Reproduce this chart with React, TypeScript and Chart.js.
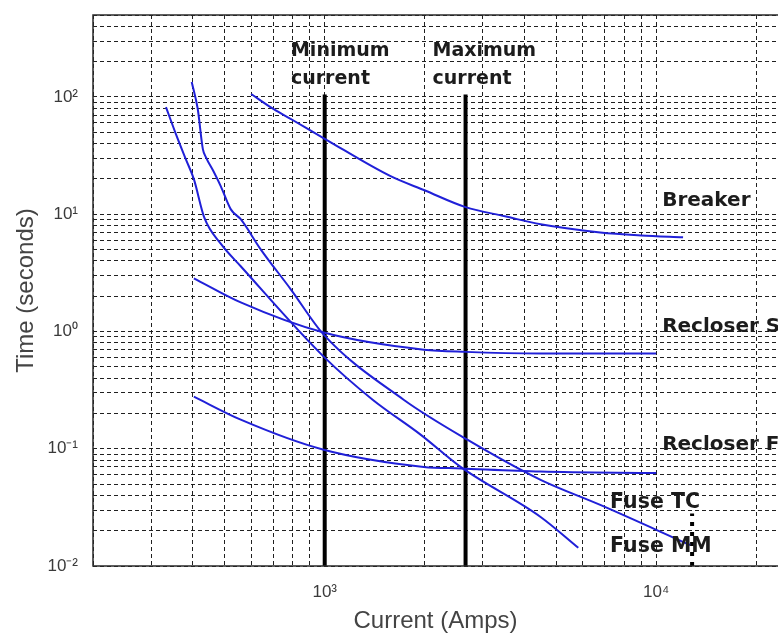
import React, { useEffect, useRef } from 'react';
import { Chart, registerables } from 'chart.js';
Chart.register(...registerables);

// Axis limits
const X_MIN = 200;
const X_MAX = 23300;
const Y_MIN = 0.01;
const Y_MAX = 500;

// Grid (log decades) and labelled ticks
const xGridValues = [200, 300, 400, 500, 600, 700, 800, 900, 1000, 2000, 3000, 4000, 5000, 6000, 7000, 8000, 9000, 10000, 20000];
const yGridValues = [
  0.01, 0.02, 0.03, 0.04, 0.05, 0.06, 0.07, 0.08, 0.09,
  0.1, 0.2, 0.3, 0.4, 0.5, 0.6, 0.7, 0.8, 0.9,
  1, 2, 3, 4, 5, 6, 7, 8, 9,
  10, 20, 30, 40, 50, 60, 70, 80, 90,
  100, 200, 300, 400, 500,
];
const xLabelValues = [1000, 10000];
const xLabelTexts = ['10³', '10⁴'];
const yLabelValues = [0.01, 0.1, 1, 10, 100];
const yLabelTexts = ['10⁻²', '10⁻¹', '10⁰', '10¹', '10²'];

// Curves: current (A) / time (s)
const breakerCurrent = [600, 700, 800, 1000, 1580, 2000, 2660, 3500, 4480, 6780, 9000, 12050];
const breakerTime = [106, 79, 63.6, 44, 21.1, 16, 11.5, 9.6, 8.2, 7.0, 6.6, 6.35];

const recloserSCurrent = [403, 558, 993, 1990, 2660, 4480, 10000];
const recloserSTime = [2.84, 1.77, 0.98, 0.7, 0.67, 0.65, 0.65];

const recloserFCurrent = [403, 558, 993, 1990, 2570, 4480, 10000];
const recloserFTime = [0.278, 0.177, 0.098, 0.07, 0.068, 0.064, 0.062];

const fuseTCCurrent = [397, 414, 429, 438, 463, 486, 521, 558, 641, 790, 993, 1730, 2700, 4480, 6780, 12650];
const fuseTCTime = [134, 78.9, 35.9, 30.7, 22.9, 17.3, 11.0, 9.06, 5.02, 2.29, 0.94, 0.262, 0.119, 0.0543, 0.0332, 0.0151];

const fuseMMCurrent = [332, 356, 381, 403, 433, 487, 558, 993, 1395, 1946, 2570, 4480, 5820];
const fuseMMTime = [82, 48, 29.5, 19.9, 9.4, 5.55, 3.6, 0.61, 0.262, 0.132, 0.07, 0.0262, 0.0143];

// Vertical markers
const minCurrent = 1000;
const maxCurrent = 2660;
const markerTop = 105;
const dottedCurrent = 12830;
const dottedTop = 0.028;

// Text labels anchored at data coordinates
const labelTexts = ['Minimum', 'current', 'Maximum', 'current', 'Breaker', 'Recloser S', 'Recloser F', 'Fuse TC', 'Fuse MM'];
const labelX = [791, 791, 2114, 2114, 10420, 10420, 10420, 7260, 7260];
const labelY = [224, 129, 224, 129, 11.7, 0.99, 0.098, 0.0313, 0.0132];
const labelFontPx = [19, 19, 19, 19, 20, 20, 20, 20.5, 20.5];

const BLUE = '#2020d8';

const pts = (xs: number[], ys: number[]) => xs.map((x, i) => ({ x, y: ys[i] }));

const annotPlugin = {
  id: 'annot',
  afterDatasetsDraw(chart: any) {
    const { ctx, chartArea, scales } = chart;
    const xs = scales.x;
    const ys = scales.y;
    ctx.save();
    // frame
    ctx.strokeStyle = '#2a2a2a';
    ctx.lineWidth = 1.5;
    ctx.setLineDash([]);
    ctx.beginPath();
    ctx.moveTo(chartArea.right + 2, chartArea.top);
    ctx.lineTo(chartArea.left, chartArea.top);
    ctx.lineTo(chartArea.left, chartArea.bottom);
    ctx.lineTo(chartArea.right + 2, chartArea.bottom);
    ctx.stroke();
    // labels
    ctx.fillStyle = '#1c1c1c';
    ctx.textAlign = 'left';
    ctx.textBaseline = 'alphabetic';
    labelTexts.forEach((t, i) => {
      ctx.font = `bold ${labelFontPx[i]}px "DejaVu Sans"`;
      ctx.fillText(t, xs.getPixelForValue(labelX[i]), ys.getPixelForValue(labelY[i]));
    });
    ctx.restore();
  },
};

export default function App() {
  const ref = useRef<HTMLCanvasElement>(null);
  useEffect(() => {
    document.body.style.margin = '0';
    document.body.style.overflow = 'hidden';
    Chart.defaults.font.family = '"Liberation Sans", Arial, sans-serif';
    const line = (xs: number[], ys: number[]) => ({
      data: pts(xs, ys),
      borderColor: BLUE,
      borderWidth: 2,
      pointRadius: 0,
      fill: false,
      cubicInterpolationMode: 'monotone' as const,
    });
    const chart = new Chart(ref.current!, {
      type: 'line',
      data: {
        datasets: [
          line(breakerCurrent, breakerTime),
          line(recloserSCurrent, recloserSTime),
          line(recloserFCurrent, recloserFTime),
          line(fuseTCCurrent, fuseTCTime),
          line(fuseMMCurrent, fuseMMTime),
          {
            data: pts([minCurrent, minCurrent], [Y_MIN, markerTop]),
            borderColor: '#000',
            borderWidth: 4,
            pointRadius: 0,
          },
          {
            data: pts([maxCurrent, maxCurrent], [Y_MIN, markerTop]),
            borderColor: '#000',
            borderWidth: 4,
            pointRadius: 0,
          },
          {
            data: pts([dottedCurrent, dottedCurrent], [Y_MIN, dottedTop]),
            borderColor: '#000',
            borderWidth: 4,
            borderDash: [4, 6],
            pointRadius: 0,
          },
        ] as any,
      },
      options: {
        responsive: false,
        devicePixelRatio: 1,
        animation: false,
        parsing: false as any,
        layout: { padding: { top: 15, right: 0, left: 0, bottom: 0 } },
        plugins: { legend: { display: false }, tooltip: { enabled: false } },
        scales: {
          x: {
            type: 'logarithmic',
            min: X_MIN,
            max: X_MAX,
            afterBuildTicks: (s: any) => {
              s.ticks = xGridValues.map((v) => ({ value: v }));
            },
            afterFit: (s: any) => {
              s.height = 70;
              s.paddingLeft = 0;
              s.paddingRight = 0;
            },
            ticks: {
              autoSkip: false,
              maxRotation: 0,
              padding: 16,
              color: '#3a3a3a',
              font: { size: 17 },
              callback: (v: any) => {
                const i = xLabelValues.indexOf(Number(v));
                return i >= 0 ? xLabelTexts[i] : '';
              },
            },
            grid: { color: 'rgba(20,20,20,0.95)', lineWidth: 1, drawTicks: false },
            border: { display: false, dash: [4, 3] },
            title: {
              display: true,
              text: 'Current (Amps)',
              color: '#444',
              font: { size: 24 },
              padding: { top: 0, bottom: 0 },
            },
          },
          y: {
            type: 'logarithmic',
            min: Y_MIN,
            max: Y_MAX,
            afterBuildTicks: (s: any) => {
              s.ticks = yGridValues.map((v) => ({ value: v }));
            },
            afterFit: (s: any) => {
              s.width = 93;
              s.paddingTop = 0;
              s.paddingBottom = 0;
            },
            ticks: {
              autoSkip: false,
              padding: 15,
              color: '#3a3a3a',
              font: { size: 17 },
              callback: (v: any) => {
                const i = yLabelValues.findIndex((y) => Math.abs(y - Number(v)) / y < 1e-6);
                return i >= 0 ? yLabelTexts[i] : '';
              },
            },
            grid: { color: 'rgba(20,20,20,0.95)', lineWidth: 1, drawTicks: false },
            border: { display: false, dash: [4, 3] },
            title: {
              display: true,
              text: 'Time (seconds)',
              color: '#444',
              font: { size: 24 },
              padding: { top: 12, bottom: 0 },
            },
          },
        },
      },
      plugins: [annotPlugin],
    });
    return () => chart.destroy();
  }, []);
  return <canvas ref={ref} width={778} height={636} style={{ display: 'block', width: 778, height: 636 }} />;
}
